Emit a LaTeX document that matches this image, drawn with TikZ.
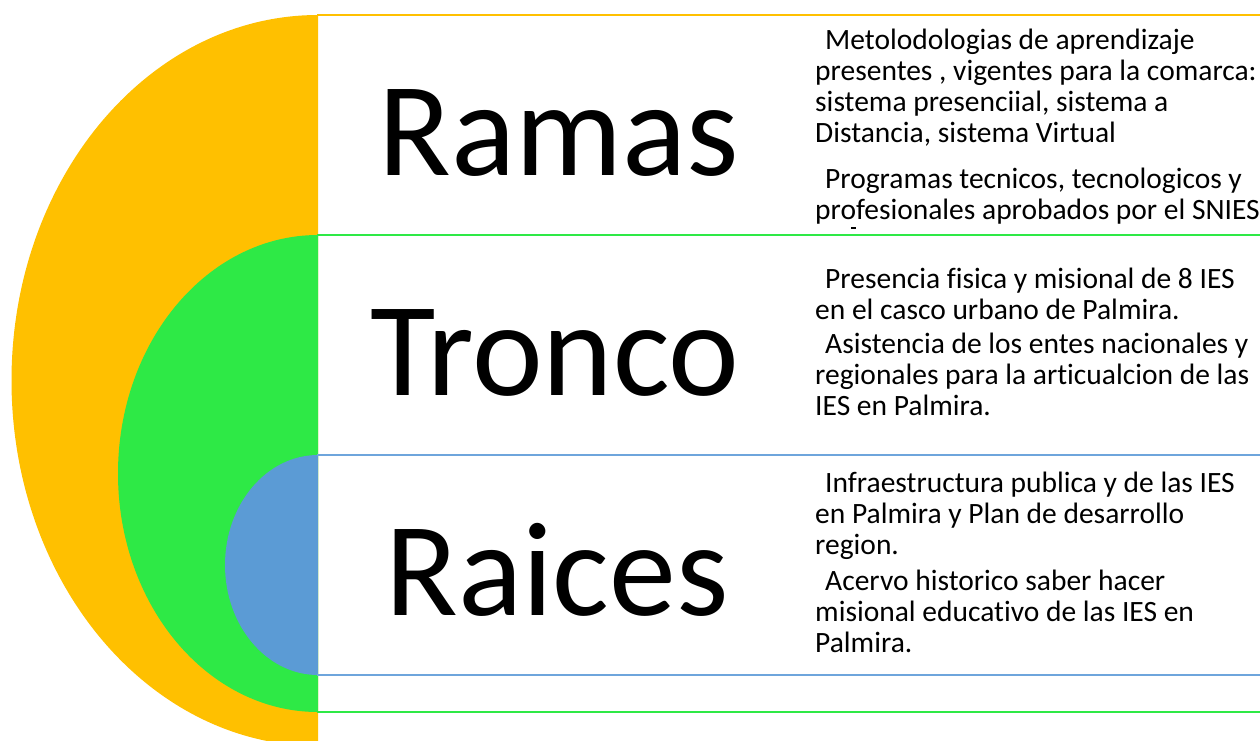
\documentclass[tikz,border=0pt]{standalone}
\usepackage{fontspec}
\setmainfont{Carlito}[Ligatures=NoCommon]
\definecolor{cOrange}{RGB}{255,192,0}
\definecolor{cGreen}{RGB}{46,233,70}
\definecolor{cBlue}{RGB}{91,155,213}
\definecolor{cBlueLine}{RGB}{110,165,220}
\tikzset{
  bigword/.style={inner sep=0pt, anchor=base, font=\fontsize{134}{134}\selectfont},
  desc/.style={inner sep=0pt, anchor=base west, font=\fontsize{29.5}{31}\selectfont},
  band/.style={line width=2pt}
}
\begin{document}
\begin{tikzpicture}[x=1pt, y=-1pt]
\useasboundingbox (0,0) rectangle (1260,740);
\fill[white] (0,0) rectangle (1260,740);
\begin{scope}
  \clip (0,0) rectangle (318,740);
  \fill[cOrange] (318,380.5) ellipse [x radius=306.5, y radius=365.5];
  \fill[cGreen] (318,473.5) ellipse [x radius=200, y radius=238.5];
  \fill[cBlue] (318,565) ellipse [x radius=93, y radius=110];
\end{scope}
\coordinate (l1a) at (317,15);  \coordinate (l1b) at (1260,15);
\coordinate (l2a) at (317,235); \coordinate (l2b) at (1260,235);
\coordinate (l3a) at (317,455); \coordinate (l3b) at (1260,455);
\coordinate (l4a) at (317,675); \coordinate (l4b) at (1260,675);
\coordinate (l5a) at (317,712); \coordinate (l5b) at (1260,712);
\draw[band, cOrange] (l1a) -- (l1b);
\draw[band, cGreen] (l2a) -- (l2b);
\draw[band, cBlueLine] (l3a) -- (l3b);
\draw[band, cBlueLine] (l4a) -- (l4b);
\draw[band, cGreen] (l5a) -- (l5b);

\node[bigword] (ramas) at (559,175) {Ramas};
\node[bigword] (tronco) at (555,395) {Tronco};
\node[bigword] (raices) at (557,615) {Raices};

% Ramas description
\node[desc] (d1a) at (825,49)  {Metolodologias de aprendizaje};
\node[desc] (d1b) at (815,80)  {presentes , vigentes para la comarca:};
\node[desc] (d1c) at (815,111) {sistema presenciial, sistema a};
\node[desc] (d1d) at (815,142) {Distancia, sistema Virtual};
\node[desc] (d1e) at (825,188) {Programas tecnicos, tecnologicos y};
\node[desc] (d1f) at (815,219) {profesionales aprobados por el SNIES};
\fill (851,227) rectangle (856,228.5);

% Tronco description
\node[desc] (d2a) at (825,288) {Presencia fisica y misional de 8 IES};
\node[desc] (d2b) at (815,319) {en el casco urbano de Palmira.};
\node[desc] (d2c) at (825,353) {Asistencia de los entes nacionales y};
\node[desc] (d2d) at (815,384) {regionales para la articualcion de las};
\node[desc] (d2e) at (815,415) {IES en Palmira.};

% Raices description
\node[desc] (d3a) at (825,492) {Infraestructura publica y de las IES};
\node[desc] (d3b) at (815,523) {en Palmira y Plan de desarrollo};
\node[desc] (d3c) at (815,554) {region.};
\node[desc] (d3d) at (825,590) {Acervo historico saber hacer};
\node[desc] (d3e) at (815,621) {misional educativo de las IES en};
\node[desc] (d3f) at (815,652) {Palmira.};
\end{tikzpicture}
\end{document}
